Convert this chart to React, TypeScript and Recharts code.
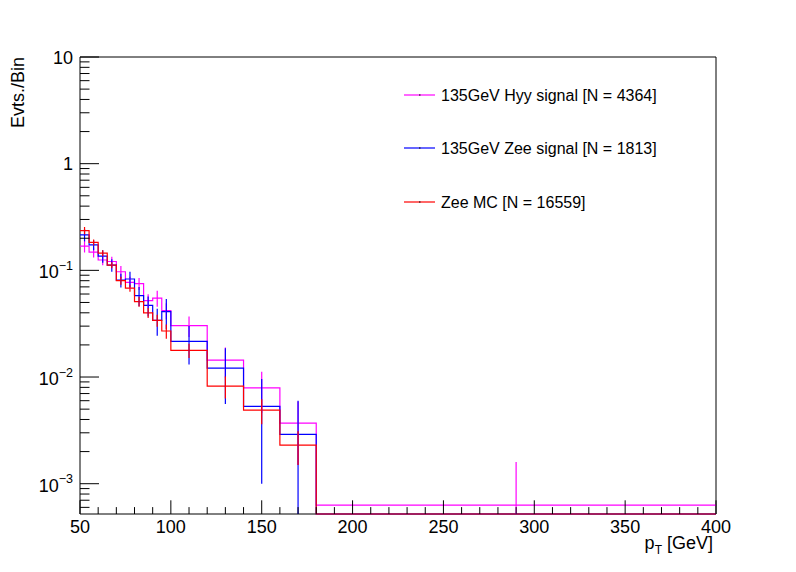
import React from "react";
import {
  ComposedChart,
  Line,
  Scatter,
  ErrorBar,
  XAxis,
  YAxis,
  ReferenceArea,
} from "recharts";

const FONT = "'Liberation Sans', Arial, Helvetica, sans-serif";
const Y_MIN = 0.00052;
const Y_MAX = 10;

// bin edges in GeV (variable width: 5 GeV up to 100, then 20 GeV, last bin 180-400)
const binEdges = [50, 55, 60, 65, 70, 75, 80, 85, 90, 95, 100, 120, 140, 160, 180, 400];

const hyyValues = [0.169, 0.148, 0.125, 0.121, 0.097, 0.077, 0.075, 0.052, 0.055, 0.042, 0.0303, 0.0144, 0.0079, 0.0037, 0.00063];
const hyyErrors = [0.022, 0.016, 0.0135, 0.013, 0.0126, 0.01, 0.0097, 0.0078, 0.0095, 0.0072, 0.0066, 0.0045, 0.0033, 0.0022, 0.00097];

const zeeSigValues = [0.215, 0.173, 0.136, 0.112, 0.081, 0.083, 0.058, 0.047, 0.034, 0.041, 0.0216, 0.0121, 0.0053, 0.0029, 0];
const zeeSigErrors = [0.028, 0.019, 0.018, 0.015, 0.012, 0.014, 0.012, 0.01, 0.0096, 0.013, 0.0085, 0.0065, 0.0043, 0.0031, 0];

const zeeMcValues = [0.236, 0.183, 0.145, 0.112, 0.08, 0.068, 0.051, 0.04, 0.034, 0.027, 0.0178, 0.0082, 0.0049, 0.0023, 0];
const zeeMcErrors = [0.019, 0.012, 0.0094, 0.0073, 0.0069, 0.0051, 0.0055, 0.0043, 0.0044, 0.0041, 0.0027, 0.0019, 0.0013, 0.0008, 0];

const seriesNames = ["135GeV Hyy signal [N = 4364]", "135GeV Zee signal [N = 1813]", "Zee MC [N = 16559]"];
const seriesColors = ["#ff00ff", "#0000ff", "#ff0000"];

const xTicks = [50, 60, 70, 80, 90, 100, 110, 120, 130, 140, 150, 160, 170, 180, 190, 200, 210, 220, 230, 240, 250, 260, 270, 280, 290, 300, 310, 320, 330, 340, 350, 360, 370, 380, 390, 400];
const xMajor = [50, 100, 150, 200, 250, 300, 350, 400];
const yTicks = [
  0.0006, 0.0007, 0.0008, 0.0009, 0.001,
  0.002, 0.003, 0.004, 0.005, 0.006, 0.007, 0.008, 0.009, 0.01,
  0.02, 0.03, 0.04, 0.05, 0.06, 0.07, 0.08, 0.09, 0.1,
  0.2, 0.3, 0.4, 0.5, 0.6, 0.7, 0.8, 0.9, 1,
  2, 3, 4, 5, 6, 7, 8, 9, 10,
];

// step outline: one point per bin edge, empty bins sit on the frame bottom like ROOT
function stepPoints(values: number[]) {
  return binEdges.map((edge, i) => ({
    x: edge,
    y: Math.max(values[Math.min(i, values.length - 1)], Y_MIN),
  }));
}

function errorPoints(values: number[], errors: number[]) {
  return values
    .map((v, i) => ({
      x: (binEdges[i] + binEdges[i + 1]) / 2,
      y: v,
      err: [Math.min(errors[i], v - Y_MIN), errors[i]],
    }))
    .filter((p) => p.y > 0);
}

const allValues = [hyyValues, zeeSigValues, zeeMcValues];
const allErrors = [hyyErrors, zeeSigErrors, zeeMcErrors];

const XTick = (props: any) => {
  const { x, y, payload } = props;
  const major = xMajor.includes(payload.value);
  return (
    <g>
      <line x1={x} x2={x} y1={y} y2={y - (major ? 13.7 : 6.9)} stroke="#000" strokeWidth={1} />
      {major && (
        <text x={x} y={y + 19} textAnchor="middle" fontSize={18} fontFamily={FONT} fill="#000">
          {payload.value}
        </text>
      )}
    </g>
  );
};

const YTick = (props: any) => {
  const { x, y, payload } = props;
  const lg = Math.log10(payload.value);
  const exp = Math.round(lg);
  const major = Math.abs(lg - exp) < 1e-6;
  let label: React.ReactNode = null;
  if (major) {
    if (exp >= 0) {
      label = (
        <text x={x - 7} y={y + 6.5} textAnchor="end" fontSize={18} fontFamily={FONT} fill="#000">
          {exp === 0 ? "1" : "10"}
        </text>
      );
    } else {
      label = (
        <text x={x - 7} y={y + 8} textAnchor="end" fontSize={18} fontFamily={FONT} fill="#000">
          <tspan>10</tspan>
          <tspan dy={-8.5} fontSize={12.5}>{"\u2212" + -exp}</tspan>
        </text>
      );
    }
  }
  return (
    <g>
      <line x1={x} x2={x + (major ? 19 : 9.5)} y1={y} y2={y} stroke="#000" strokeWidth={1} />
      {label}
    </g>
  );
};

export default function App() {
  const legendY = [95, 148, 202];
  return (
    <div style={{ position: "relative", width: 796, height: 572, background: "#fff" }}>
      <style>{"body{margin:0}"}</style>
      <ComposedChart width={796} height={572} margin={{ top: 57, right: 80, bottom: 0, left: 0 }}>
        <XAxis
          dataKey="x"
          type="number"
          domain={[50, 400]}
          ticks={xTicks}
          interval={0}
          axisLine={false}
          tickLine={false}
          tickSize={0}
          tickMargin={0}
          height={58}
          tick={<XTick />}
        />
        <YAxis
          type="number"
          scale="log"
          domain={[Y_MIN, Y_MAX]}
          ticks={yTicks}
          interval={0}
          axisLine={false}
          tickLine={false}
          tickSize={0}
          tickMargin={0}
          width={80}
          tick={<YTick />}
        />
        <ReferenceArea x1={50} x2={400} y1={Y_MIN} y2={Y_MAX} fill="none" stroke="#000" strokeWidth={1} />
        {allValues.map((vals, i) => (
          <Line
            key={"h" + i}
            data={stepPoints(vals)}
            dataKey="y"
            type="stepAfter"
            stroke={seriesColors[i]}
            strokeWidth={1.2}
            dot={false}
            activeDot={false}
            isAnimationActive={false}
          />
        ))}
        {allValues.map((vals, i) => (
          <Scatter
            key={"e" + i}
            data={errorPoints(vals, allErrors[i])}
            dataKey="y"
            shape={() => <g />}
            isAnimationActive={false}
          >
            <ErrorBar dataKey="err" direction="y" width={0} stroke={seriesColors[i]} strokeWidth={1.2} isAnimationActive={false} />
          </Scatter>
        ))}
      </ComposedChart>
      <svg width={796} height={572} style={{ position: "absolute", left: 0, top: 0, pointerEvents: "none" }}>
        <text
          transform="translate(24,57) rotate(-90)"
          textAnchor="end"
          fontSize={18}
          fontFamily={FONT}
          fill="#000"
        >
          Evts./Bin
        </text>
        <text x={713} y={549} textAnchor="end" fontSize={18} fontFamily={FONT} fill="#000">
          <tspan>p</tspan>
          <tspan dy={5} fontSize={12}>T</tspan>
          <tspan dy={-5}> [GeV]</tspan>
        </text>
        {seriesNames.map((name, i) => (
          <g key={name}>
            <line x1={404} x2={435} y1={legendY[i]} y2={legendY[i]} stroke={seriesColors[i]} strokeWidth={1.2} />
            <line x1={419} x2={420.5} y1={legendY[i]} y2={legendY[i]} stroke="#000" strokeWidth={1.2} />
            <text x={441} y={legendY[i] + 6} fontSize={16} fontFamily={FONT} fill="#000">
              {name}
            </text>
          </g>
        ))}
      </svg>
    </div>
  );
}
